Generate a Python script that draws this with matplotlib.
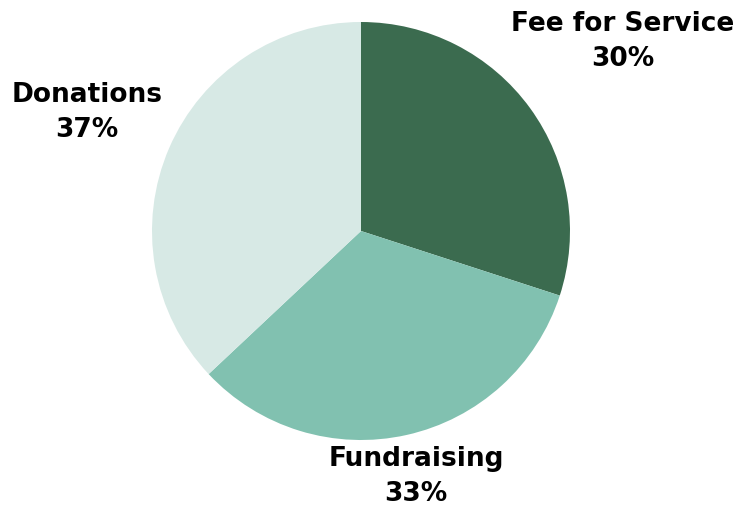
import matplotlib
matplotlib.use("Agg")
import matplotlib.pyplot as plt

categories = ["Fee for Service", "Fundraising", "Donations"]
values = [30, 33, 37]
colors = ["#3b6b4f", "#81c1b0", "#d7e9e5"]

fig = plt.figure(figsize=(7.41, 5.07), dpi=100)
ax = fig.add_axes([152/741, 67/507, 418/741, 418/507])
ax.pie(values, colors=colors, startangle=90, counterclock=False, radius=1,
       wedgeprops=dict(linewidth=0))
ax.set_xlim(-1, 1)
ax.set_ylim(-1, 1)
ax.set_aspect("equal")
ax.axis("off")

label_pos = [(1.251, 0.905), (0.263, -1.177), (-1.311, 0.566)]
for cat, v, (x, y) in zip(categories, values, label_pos):
    ax.text(x, y, f"{cat}\n{v}%", ha="center", va="center", fontsize=19,
            fontweight="bold", family="DejaVu Sans", color="#000000",
            linespacing=1.45, clip_on=False)

fig.savefig("out.png", dpi=100)
